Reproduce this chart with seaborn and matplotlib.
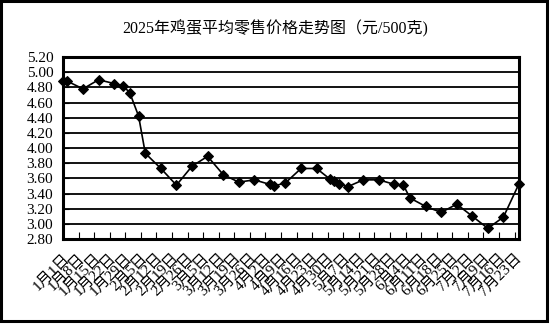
import pandas as pd
import matplotlib
matplotlib.use('Agg')
import matplotlib.pyplot as plt
import matplotlib.patches as mpatches
import seaborn as sns

# weekly egg retail price readings, 2025 (yuan / 500 g)
dates = ['2025-01-01', '2025-01-03', '2025-01-10', '2025-01-17', '2025-01-24', '2025-01-28',
         '2025-01-31', '2025-02-04', '2025-02-07', '2025-02-14', '2025-02-21', '2025-02-28',
         '2025-03-07', '2025-03-14', '2025-03-21', '2025-03-28', '2025-04-04', '2025-04-06',
         '2025-04-11', '2025-04-18', '2025-04-25', '2025-05-01', '2025-05-03', '2025-05-05',
         '2025-05-09', '2025-05-16', '2025-05-23', '2025-05-30', '2025-06-03', '2025-06-06',
         '2025-06-13', '2025-06-20', '2025-06-27', '2025-07-04', '2025-07-11', '2025-07-18',
         '2025-07-25']
prices = [4.88, 4.88, 4.78, 4.90, 4.85, 4.82, 4.73, 4.42, 3.93, 3.73, 3.51, 3.76,
          3.89, 3.65, 3.55, 3.58, 3.52, 3.50, 3.54, 3.73, 3.73, 3.59, 3.56, 3.53,
          3.49, 3.58, 3.58, 3.52, 3.51, 3.34, 3.23, 3.15, 3.26, 3.10, 2.94, 3.09, 3.53]
tick_dates = pd.date_range('2025-01-01', '2025-07-23', freq='7D')
tick_labels = [f'{d.month}月{d.day}日' for d in tick_dates]
yticks = [2.80, 3.00, 3.20, 3.40, 3.60, 3.80, 4.00, 4.20, 4.40, 4.60, 4.80, 5.00, 5.20]
title = '2025年鸡蛋平均零售价格走势图（元/500克)'

fonts = ['Liberation Serif', 'Noto Sans CJK SC']
plt.rcParams['font.family'] = fonts

df = pd.DataFrame({'date': pd.to_datetime(dates), 'price': prices})

fig = plt.figure(figsize=(5.51, 3.25), dpi=100)
ax = fig.add_axes([0.1143, 0.2646, 0.8277, 0.56])

sns.lineplot(data=df, x='date', y='price', ax=ax, color='black', lw=1.2,
             marker='D', markersize=5, markeredgecolor='black', clip_on=False, zorder=5)

ax.set_xlim(pd.Timestamp('2025-01-01'), pd.Timestamp('2025-07-25'))
ax.set_ylim(2.80, 5.20)
ax.set_yticks(yticks)
ax.set_yticklabels([f'{v:.2f}' for v in yticks], fontsize=11)
ax.set_xticks(tick_dates)
ax.set_xticklabels(tick_labels, rotation=45, ha='right', rotation_mode='anchor',
                   fontsize=11)
ax.set_xlabel('')
ax.set_ylabel('')
ax.grid(axis='y', color='black', lw=1.3)
ax.tick_params(axis='x', direction='in', length=5, width=0.8, pad=9)
ax.tick_params(axis='y', direction='in', length=4, width=0.8, pad=7)
for s in ax.spines.values():
    s.set_linewidth(2.2)
    s.set_color('black')

fig.text(0.5, 0.913, title, ha='center', va='center', fontsize=11.5, family=fonts)

# outer chart border
fig.patches.append(mpatches.Rectangle((0.0027, 0.0108), 0.9909, 0.9846, transform=fig.transFigure,
                                      fill=False, lw=2.2, ec='black'))

fig.savefig('out.png', dpi=100)
